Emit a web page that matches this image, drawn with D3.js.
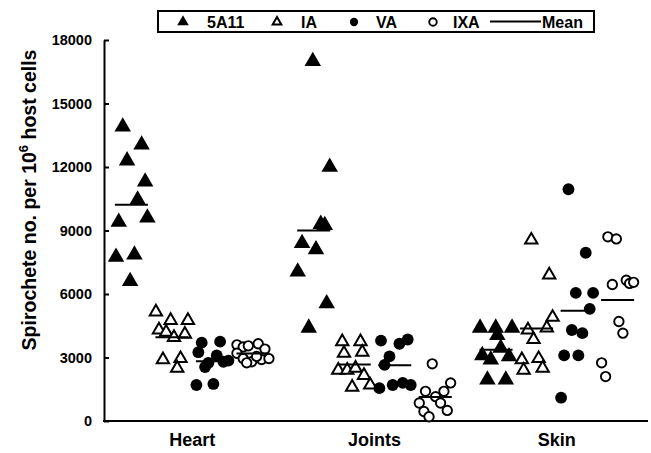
<!DOCTYPE html>
<html>
<head>
<meta charset="utf-8">
<script src="https://cdn.jsdelivr.net/npm/d3@7"></script>
<style>
  body { margin: 0; background: #fff; }
  text { font-family: "Liberation Sans", Arial, sans-serif; font-weight: bold; fill: #000; }
</style>
</head>
<body>
<svg id="chart"></svg>
<script>
const categories = ["Heart", "Joints", "Skin"];
const seriesNames = ["5A11", "IA", "VA", "IXA"];
const yTicks = [0, 3000, 6000, 9000, 12000, 15000, 18000];

// spirochete counts, one array per organ
const values5A11 = {
  Heart: [13900, 13050, 12300, 11300, 10450, 9400, 9600, 7750, 7850, 6600],
  Joints: [17000, 12000, 9300, 9250, 8400, 8100, 7050, 5550, 4400],
  Skin: [4400, 4400, 4400, 4050, 3450, 3100, 2900, 3050, 1950, 1950],
};
const valuesIA = {
  Heart: [5150, 4750, 4750, 4300, 4200, 3950, 4100, 2900, 2950, 2500],
  Joints: [3750, 3750, 3200, 3250, 2400, 2400, 2500, 2150, 1600, 1700],
  Skin: [8550, 6900, 4900, 4400, 4300, 3850, 2950, 2500, 2900, 2400],
};
const valuesVA = {
  Heart: [3700, 3750, 3250, 3100, 2750, 2800, 2850, 2550, 1700, 1750],
  Joints: [3800, 3650, 3850, 3050, 2650, 1550, 1700, 1800, 1700],
  Skin: [10950, 7950, 6050, 6050, 5300, 4300, 4150, 3100, 3100, 1100],
};
const valuesIXA = {
  Heart: [3600, 3500, 3550, 3650, 3400, 3200, 2950, 2800, 2900, 2950, 2750, 3050],
  Joints: [2700, 1800, 1400, 1400, 1150, 850, 850, 500, 450, 200],
  Skin: [8700, 8600, 6450, 6650, 6500, 6550, 4700, 4150, 2750, 2100],
};

// horizontal scatter of each dot inside its column (-1 .. 1)
const jitter5A11 = {
  Heart: [-0.54, 0.64, -0.27, 0.86, 0.39, -0.79, 1.0, -0.96, 0.19, -0.08],
  Joints: [-0.06, 1.0, 0.44, 0.69, -0.73, 0.14, -1.0, 0.81, -0.31],
  Skin: [-1.0, -0.02, 1.0, 0.08, 0.29, -0.86, -0.33, 0.81, -0.54, 0.61],
};
const jitterIA = {
  Heart: [-1.0, -0.08, 1.0, -0.81, -0.36, 0.13, 0.81, -0.56, 0.54, 0.33],
  Joints: [-0.75, 0.39, -0.64, 0.5, -1.0, -0.44, 0.08, 0.61, -0.13, 1.0],
  Skin: [-0.33, 0.79, 1.0, 0.64, -0.54, -0.19, 0.13, 0.38, -0.92, -0.81],
};
const jitterVA = {
  Heart: [-0.67, 0.48, -0.88, 0.27, -0.25, 0.69, 1.0, -0.46, -1.0, 0.06],
  Joints: [-0.86, 0.29, 0.81, -0.33, -0.64, -0.96, -0.13, 0.5, 1.0],
  Skin: [-0.54, 0.54, -0.08, 1.0, 0.79, -0.33, 0.33, -0.81, 0.08, -1.0],
};
const jitterIXA = {
  Heart: [-1.0, -0.61, -0.29, 0.33, 0.75, -1.0, -0.61, -0.08, 0.54, 1.0, -0.39, 0.23],
  Joints: [-0.19, 0.96, -0.61, 0.54, 0.02, -1.0, 0.33, 0.75, -0.71, -0.39],
  Skin: [-0.61, -0.08, -0.33, 0.54, 0.75, 1.0, 0.08, 0.33, -1.0, -0.75],
};

const seriesValues = { "5A11": values5A11, IA: valuesIA, VA: valuesVA, IXA: valuesIXA };
const seriesJitter = { "5A11": jitter5A11, IA: jitterIA, VA: jitterVA, IXA: jitterIXA };

const width = 651;
const height = 453;
const plot = { left: 104, right: 648, top: 40, bottom: 421 };

const svg = d3.select("#chart").attr("width", width).attr("height", height);

// Scales
const xcat = d3.scaleBand().domain(categories).range([101, 648]);
const xser = d3.scaleBand().domain(seriesNames).range([0, xcat.bandwidth()]).paddingOuter(0.25);
const xjit = d3.scaleLinear().domain([-1, 1]).range([-16, 16]);
const yscale = d3.scaleLinear().domain([0, 18000]).range([plot.bottom, plot.top]);

const colX = (cat, ser) => xcat(cat) + xser(ser) + xser.bandwidth() / 2;

// flatten into points
const points = [];
seriesNames.forEach((s) => {
  categories.forEach((c) => {
    seriesValues[s][c].forEach((v, i) => {
      points.push({ series: s, cat: c, value: v, jitter: seriesJitter[s][c][i] });
    });
  });
});

const means = [];
seriesNames.forEach((s) => {
  categories.forEach((c) => {
    means.push({ series: s, cat: c, value: d3.mean(seriesValues[s][c]) });
  });
});

// Y axis (ticks point inward)
const yaxis = d3.axisLeft(yscale)
  .tickValues(yTicks)
  .tickFormat(d3.format("d"))
  .tickSizeInner(-5)
  .tickSizeOuter(0)
  .tickPadding(12);
const g_yaxis = svg.append("g").attr("transform", `translate(${plot.left},0)`).call(yaxis);
g_yaxis.select(".domain").attr("stroke", "#000").attr("stroke-width", 2);
g_yaxis.selectAll(".tick line").attr("stroke", "#000").attr("stroke-width", 2);
g_yaxis.selectAll(".tick text").style("font-size", "14.5px").style("font-family", null);

// X axis: category labels plus a plain baseline
const xaxis = d3.axisBottom(xcat).tickSize(0).tickPadding(12);
const g_xaxis = svg.append("g").attr("transform", `translate(0,${plot.bottom})`).call(xaxis);
g_xaxis.select(".domain").remove();
g_xaxis.selectAll(".tick text").style("font-size", "18px").style("font-family", null);
svg.append("line")
  .attr("x1", plot.left - 1).attr("x2", plot.right)
  .attr("y1", plot.bottom).attr("y2", plot.bottom)
  .attr("stroke", "#000").attr("stroke-width", 2);

// Y title
const ytitle = svg.append("text")
  .attr("transform", "translate(36,200) rotate(-90)")
  .attr("text-anchor", "middle")
  .style("font-size", "19.5px");
ytitle.append("tspan").text("Spirochete no. per 10");
ytitle.append("tspan").attr("dy", -8).style("font-size", "13px").text("6");
ytitle.append("tspan").attr("dy", 8).text(" host cells");

// marker drawing per series
function drawMarker(sel, series, scale) {
  if (series === "5A11") {
    sel.append("path").attr("d", d3.symbol().type(d3.symbolTriangle).size(118 * scale * scale)).attr("fill", "#000");
  } else if (series === "IA") {
    sel.append("path").attr("d", d3.symbol().type(d3.symbolTriangle).size(66 * scale * scale))
      .attr("fill", "#fff").attr("stroke", "#000").attr("stroke-width", 2);
  } else if (series === "VA") {
    sel.append("circle").attr("r", 5.9 * scale).attr("fill", "#000");
  } else {
    sel.append("circle").attr("r", 4.7 * scale).attr("fill", "#fff").attr("stroke", "#000").attr("stroke-width", 1.9);
  }
}

const g_points = svg.append("g");
g_points.selectAll("g.pt")
  .data(points)
  .join("g")
  .attr("class", "pt")
  .attr("transform", (d) => `translate(${colX(d.cat, d.series) + xjit(d.jitter)},${yscale(d.value)})`)
  .each(function (d) { drawMarker(d3.select(this), d.series, 1); });

// mean lines
svg.append("g").selectAll("line")
  .data(means)
  .join("line")
  .attr("x1", (d) => colX(d.cat, d.series) - 16.5)
  .attr("x2", (d) => colX(d.cat, d.series) + 16.5)
  .attr("y1", (d) => yscale(d.value))
  .attr("y2", (d) => yscale(d.value))
  .attr("stroke", "#000").attr("stroke-width", 2);

// Legend
const legend = svg.append("g");
legend.append("rect")
  .attr("x", 158).attr("y", 11).attr("width", 436).attr("height", 21)
  .attr("fill", "#fff").attr("stroke", "#000").attr("stroke-width", 2);
const legendMarkX = [183, 277, 354, 433];
const legendTextX = [207, 301, 376, 453];
seriesNames.forEach((s, i) => {
  const g = legend.append("g").attr("transform", `translate(${legendMarkX[i]},22)`);
  drawMarker(g, s, s === "IXA" ? 0.8 : 0.7);
  legend.append("text").attr("x", legendTextX[i]).attr("y", 27.5).style("font-size", "16px").text(s);
});
legend.append("line").attr("x1", 490).attr("x2", 541).attr("y1", 21.5).attr("y2", 21.5)
  .attr("stroke", "#000").attr("stroke-width", 2);
legend.append("text").attr("x", 542).attr("y", 27.5).style("font-size", "16px").text("Mean");
</script>
</body>
</html>
